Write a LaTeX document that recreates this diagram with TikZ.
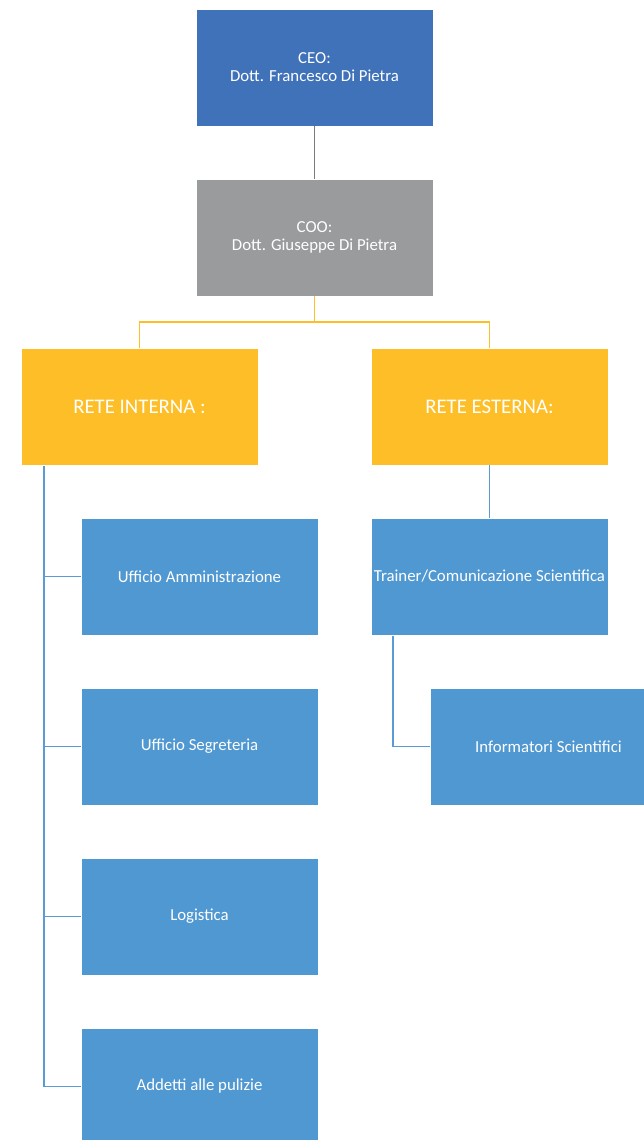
\documentclass[tikz,border=0pt]{standalone}
\usepackage{fontspec}
\setmainfont{Carlito}
\definecolor{ceoblue}{RGB}{64,114,185}
\definecolor{boxblue}{RGB}{80,152,210}
\definecolor{boxgray}{RGB}{153,155,156}
\definecolor{boxorange}{RGB}{253,190,40}
\definecolor{lineblue}{RGB}{91,155,213}
\tikzset{
  orgbox/.style={draw=white, line width=0.6pt, minimum width=237pt, minimum height=117pt,
    inner sep=0pt, text=white, align=center, font=\fontsize{16.8}{18}\selectfont},
  retebox/.style={orgbox, fill=boxorange, font=\fontsize{20.8}{24}\selectfont},
  unitbox/.style={orgbox, fill=boxblue}
}
\begin{document}
\begin{tikzpicture}[x=1pt, y=-1pt]
    \useasboundingbox (0,0) rectangle (644,1140);
    \clip (0,0) rectangle (644,1140);

    \node[orgbox, fill=ceoblue] (ceo) at (314.5,67.5) {CEO:\\Dott. Francesco Di Pietra};
    \node[orgbox, fill=boxgray] (coo) at (314.5,237.5) {COO:\\Dott. Giuseppe Di Pietra};
    \node[retebox] (interna) at (139.5,406.5) {RETE INTERNA :};
    \node[retebox] (esterna) at (489.5,406.5) {RETE ESTERNA:};

    \node[unitbox] (amm) at (199.5,576.5) {Ufficio Amministrazione};
    \node[unitbox] (segr) at (199.5,746.5) {Ufficio Segreteria};
    \node[unitbox] (log) at (199.5,916.5) {Logistica};
    \node[unitbox] (pul) at (199.5,1086.5) {Addetti alle pulizie};

    \node[unitbox] (trainer) at (489.5,576.5) {Trainer/Comunicazione Scientifica};
    \node[unitbox] (inf) at (548.5,746.5) {Informatori Scientifici};

    \coordinate (split) at (314.5,322);
    \coordinate (spine) at (44,466);
    \coordinate (bend) at (393,636);

    \draw[boxgray!80!black, line width=1pt] (ceo) -- (coo);
    \draw[boxorange, line width=1.2pt] (coo.south) -- (split);
    \draw[boxorange, line width=1.2pt] (interna.north) |- (split) -| (esterna.north);

    \draw[lineblue, line width=1.2pt] (spine) |- (pul.west);
    \foreach \u in {amm, segr, log}
        \draw[lineblue, line width=1.2pt] (spine |- \u.west) -- (\u.west);
    \draw[lineblue, line width=1.2pt] (esterna) -- (trainer);
    \draw[lineblue, line width=1.2pt] (bend) |- (inf.west);
\end{tikzpicture}
\end{document}
